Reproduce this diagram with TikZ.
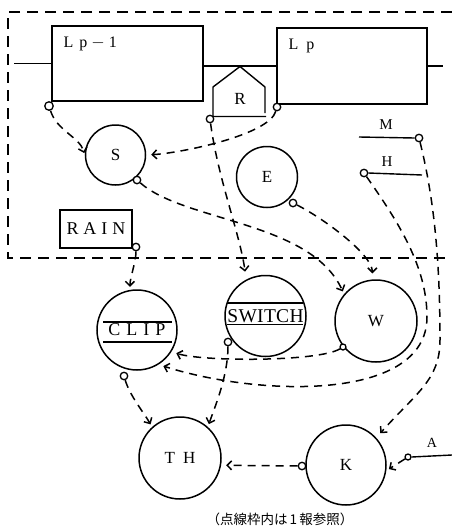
\documentclass[tikz,border=0pt]{standalone}
\usepackage{fontspec}
\setmainfont{Liberation Serif}
\newfontfamily\cjk{Noto Sans CJK JP}
\usetikzlibrary{arrows.meta}
\begin{document}
\begin{tikzpicture}[x=1pt,y=-1pt,line width=1.4pt,
  circ/.style={circle,draw,line width=1.5pt,inner sep=0pt,font=\fontsize{17}{17}\selectfont},
  box/.style={rectangle,draw,line width=1.5pt,inner sep=0pt},
  port/.style={circle,draw,fill=white,line width=1.3pt,inner sep=0pt,minimum size=7.5pt},
  conn/.style={dash pattern=on 8pt off 6pt,line width=1.5pt,-{Straight Barb[length=4.5pt,width=9pt]},shorten >=5pt},
  frame/.style={dash pattern=on 11pt off 7pt,line width=1.4pt},
  lbl/.style={inner sep=0pt,font=\fontsize{16}{16}\selectfont}
]
\useasboundingbox (0,0) rectangle (452,528);
% dashed frame
\draw[frame] (452,12) -- (8,12) -- (8,258) -- (452,258);
% boxes
\node[box,minimum width=151pt,minimum height=75pt] (Lp1) at (127.5,63.5) {};
\node[box,minimum width=150pt,minimum height=76pt] (Lp) at (352,66) {};
\node[lbl,anchor=west] (Lp1t) at (63,44) {L\hspace{6pt}p\hspace{4pt}$-$\hspace{4pt}1};
\node[lbl,anchor=west] (Lpt) at (288,46) {L\hspace{8pt}p};
\coordinate (lin) at (14,63.5);
\coordinate (rout) at (443,66);
\draw (lin) -- (Lp1.west);
\draw (Lp1.east |- Lp.west) -- (Lp.west);
\draw (Lp.east) -- (rout);
% R house
\draw (265,113) -- (265,87) -- (240,66.5) -- (213,87) -- (213,116.5) -- (266,116.5);
\node[circ,draw=none] (R) at (240,99) {R};
% circles
\node[circ,minimum size=60pt] (S) at (115.5,155) {S};
\node[circ,minimum size=61pt] (E) at (267,177) {E};
\node[circ,minimum size=80pt] (CLIP) at (137,330) {\fontsize{18}{18}\selectfont C\hspace{6pt}L\hspace{6pt}I\hspace{6pt}P};
\node[circ,minimum size=81pt] (SW) at (265.5,316) {\fontsize{19.5}{19.5}\selectfont S\hspace{0.3pt}W\hspace{0.3pt}I\hspace{0.3pt}T\hspace{0.3pt}C\hspace{0.3pt}H};
\node[circ,minimum size=82pt] (W) at (376,321) {W};
\node[circ,minimum size=82pt] (TH) at (180,458) {T\hspace{8pt}H};
\node[circ,minimum size=80pt] (K) at (346,465) {K};
% over/underlines
\draw ([shift={(-34,-8)}]CLIP.center) -- ([shift={(35,-8)}]CLIP.center);
\draw ([shift={(-34,12)}]CLIP.center) -- ([shift={(35,12)}]CLIP.center);
\draw ([shift={(-38.5,-13)}]SW.center) -- ([shift={(37.5,-13)}]SW.center);
\draw ([shift={(-38.5,8.5)}]SW.center) -- ([shift={(37.5,8.5)}]SW.center);
% RAIN
\node[box,minimum width=72pt,minimum height=38pt,font=\fontsize{18}{18}\selectfont] (RAIN) at (96,229) {R\hspace{5pt}A\hspace{5pt}I\hspace{5pt}N};
% labels
\node[lbl,font=\fontsize{15}{15}\selectfont] (Mt) at (386,125) {M};
\node[lbl,font=\fontsize{15}{15}\selectfont] (Ht) at (387,162) {H};
\node[lbl,font=\fontsize{14}{14}\selectfont] (At) at (432,443) {A};
% ports
\node[port,minimum size=8.5pt] (pLp1) at (49,106) {};
\node[port] (pR) at (210,119) {};
\node[port] (pLp) at (277,107) {};
\node[port] (pS) at (137,180) {};
\node[port] (pE) at (293,203) {};
\node[port] (pRain) at (136,247) {};
\node[port] (pM) at (419,138) {};
\node[port] (pH) at (364,173) {};
\node[port,minimum size=6pt] (pW) at (343,347) {};
\node[port] (pSW) at (228,342) {};
\node[port] (pClip) at (124,376) {};
\node[port] (pK) at (302,466) {};
\node[port,minimum size=6pt] (pA) at (408,457) {};
\coordinate (Ms) at (359,137);
\coordinate (He) at (422,175);
\coordinate (Ae) at (452,455);
\draw (Ms) -- (pM.west);
\draw (pH.east) -- (He);
\draw (pA.east) -- (Ae);
% connectors
\draw[conn,shorten >=2pt] (pLp1) .. controls +(8,25) and +(-5,-18) .. (S.180);
\draw[conn] (pLp) .. controls +(-8,28) and +(35,-2) .. (S.east);
\draw[conn,shorten >=8pt] (pR) .. controls +(8,60) and +(-6,-45) .. (SW.118);
\draw[conn,shorten >=3pt] (pS) .. controls +(48,42) and +(-33,-73) .. (W.140);
\draw[conn,shorten >=6pt] (pE) .. controls +(30,15) and +(0,-25) .. (W.95);
\draw[conn,shorten >=3pt] (pRain) .. controls +(0,15) and +(0,-12) .. (CLIP.100);
\draw[conn] (pW) .. controls +(-25,15) and +(30,10) .. (CLIP.-32);
\coordinate (hmid) at (427,317);
\draw[conn] (pH) .. controls +(35,50) and +(0,-50) .. (hmid) .. controls +(0,85) and +(100,32) .. (CLIP.-58);
\coordinate (mmid) at (440,340);
\draw[conn,shorten >=6pt] (pM) .. controls +(15,60) and +(0,-80) .. (mmid) .. controls +(0,40) and +(40,-45) .. (K.42);
\draw[conn,shorten >=3pt] (pClip) .. controls +(6,20) and +(-8,-14) .. (TH.132);
\draw[conn,shorten >=3pt] (pSW) .. controls +(0,35) and +(6,-18) .. (TH.48);
\draw[conn] (pK) -- (TH.-10);
\draw[conn,shorten >=3pt] (pA) -- (K.-8);
% caption
\node[inner sep=0pt,font=\cjk\fontsize{13.5}{13.5}\selectfont] (cap) at (280,519) {（点線枠内は\,1\,報参照）};
\end{tikzpicture}
\end{document}
